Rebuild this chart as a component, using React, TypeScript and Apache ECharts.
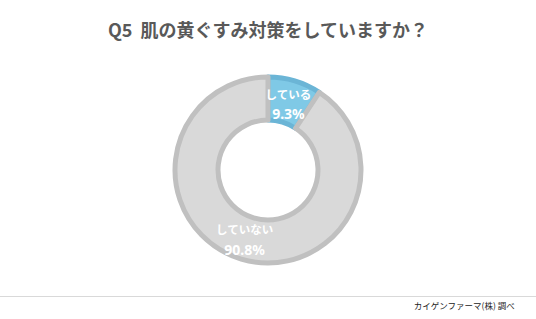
import React, { useEffect, useRef } from "react";
import * as echarts from "echarts";

const title = "Q5  肌の黄ぐすみ対策をしていますか？";
const categories = ["している", "していない"];
const values = [9.3, 90.8];
const sourceText = "カイゲンファーマ(株) 調べ";

export default function App() {
  const ref = useRef<HTMLDivElement>(null);
  useEffect(() => {
    if (!ref.current) return;
    const chart = echarts.init(ref.current, null, { renderer: "svg" });
    const fills = ["#7fc9e6", "#d9d9d9"];
    const borders = ["#6bb5d6", "#c0c0c0"];
    const offsets = [
      [-1, 5],
      [-2, -2],
    ];
    chart.setOption({
      animation: false,
      backgroundColor: "#ffffff",
      title: {
        text: title,
        left: "center",
        top: 15,
        textStyle: {
          fontFamily: "Noto Sans CJK JP",
          fontSize: 18,
          fontWeight: "bold",
          color: "#595959",
        },
      },
      graphic: [
        {
          type: "line",
          shape: { x1: 0, y1: 296.5, x2: 536, y2: 296.5 },
          style: { stroke: "#d9d9d9", lineWidth: 1 },
        },
        {
          type: "text",
          right: 21,
          top: 301,
          style: {
            text: sourceText,
            fontFamily: "Noto Sans CJK JP",
            fontSize: 8.5,
            fill: "#222222",
          },
        },
      ],
      series: [
        {
          type: "pie",
          center: [268, 170],
          radius: [50, 93],
          startAngle: 90,
          clockwise: true,
          label: {
            show: true,
            position: "inside",
            formatter: (p: any) => `{n|${p.name}}\n{v|${p.value}%}`,
            color: "#ffffff",
            rich: {
              n: {
                fontFamily: "Noto Sans CJK JP",
                fontWeight: "bold",
                fontSize: 11.5,
                lineHeight: 20,
                color: "#ffffff",
              },
              v: {
                fontFamily: "Noto Sans",
                fontWeight: "bold",
                fontSize: 14,
                lineHeight: 20,
                color: "#ffffff",
              },
            },
          },
          labelLine: { show: false },
          emphasis: { disabled: true },
          data: categories.map((c, i) => ({
            name: c,
            value: values[i],
            label: { offset: offsets[i] },
            itemStyle: { color: fills[i], borderColor: borders[i], borderWidth: 5 },
          })),
        },
      ],
    });
    return () => chart.dispose();
  }, []);
  return (
    <div
      ref={ref}
      style={{ position: "fixed", left: 0, top: 0, width: 536, height: 319 }}
    />
  );
}
